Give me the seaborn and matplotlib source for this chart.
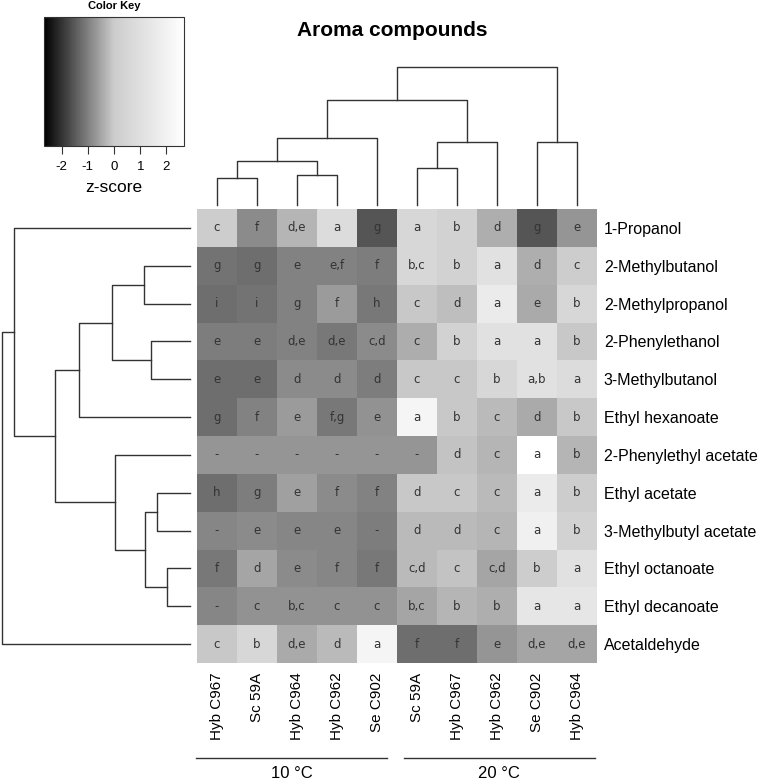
import numpy as np
import pandas as pd
import seaborn as sns
import matplotlib.pyplot as plt
from matplotlib.colors import LinearSegmentedColormap
from matplotlib.cm import ScalarMappable
from matplotlib.colors import Normalize

# column / row labels (order as shown after clustering)
strains = ["Hyb C967", "Sc 59A", "Hyb C964", "Hyb C962", "Se C902",
           "Sc 59A", "Hyb C967", "Hyb C962", "Se C902", "Hyb C964"]
temps = ["10 °C", "20 °C"]
compounds = ["1-Propanol", "2-Methylbutanol", "2-Methylpropanol", "2-Phenylethanol",
             "3-Methylbutanol", "Ethyl hexanoate", "2-Phenylethyl acetate", "Ethyl acetate",
             "3-Methylbutyl acetate", "Ethyl octanoate", "Ethyl decanoate", "Acetaldehyde"]

# z-scores (estimated from cell shading)
zscores = [
    [0.05, -0.84, -0.31, 0.84, -1.56, 0.58, 0.31, -0.38, -1.56, -0.71],
    [-1.16, -1.23, -0.97, -0.97, -1.03, 0.58, 0.31, 1.10, -0.38, 0.05],
    [-1.23, -1.16, -0.97, -0.64, -1.10, -0.05, -0.18, 1.62, -0.44, 0.58],
    [-1.03, -1.03, -0.97, -1.10, -0.84, -0.40, 0.31, 1.10, 1.10, -0.05],
    [-1.23, -1.23, -0.84, -0.84, -1.03, -0.05, -0.05, 0.58, 1.10, 0.84],
    [-1.23, -0.97, -0.64, -1.10, -0.77, 2.15, -0.05, -0.25, -0.44, -0.05],
    [-0.71, -0.71, -0.71, -0.71, -0.71, -0.71, -0.12, -0.31, 2.67, -0.31],
    [-1.23, -1.03, -0.58, -0.84, -0.97, -0.05, -0.05, -0.25, 1.62, 0.05],
    [-0.90, -0.84, -0.90, -0.90, -1.03, -0.25, -0.25, -0.31, 1.88, 0.31],
    [-1.10, -0.51, -0.84, -0.90, -1.10, -0.25, -0.12, -0.51, 0.05, 1.10],
    [-0.90, -0.77, -0.77, -0.77, -0.77, -0.51, -0.31, -0.38, 1.36, 1.36],
    [-0.05, 0.58, -0.44, -0.25, 2.15, -1.23, -1.23, -0.71, -0.51, -0.51],
]

letters = [
    ["c", "f", "d,e", "a", "g", "a", "b", "d", "g", "e"],
    ["g", "g", "e", "e,f", "f", "b,c", "b", "a", "d", "c"],
    ["i", "i", "g", "f", "h", "c", "d", "a", "e", "b"],
    ["e", "e", "d,e", "d,e", "c,d", "c", "b", "a", "a", "b"],
    ["e", "e", "d", "d", "d", "c", "c", "b", "a,b", "a"],
    ["g", "f", "e", "f,g", "e", "a", "b", "c", "d", "b"],
    ["-", "-", "-", "-", "-", "-", "d", "c", "a", "b"],
    ["h", "g", "e", "f", "f", "d", "c", "c", "a", "b"],
    ["-", "e", "e", "e", "-", "d", "d", "c", "a", "b"],
    ["f", "d", "e", "f", "f", "c,d", "c", "c,d", "b", "a"],
    ["-", "c", "b,c", "c", "c", "b,c", "b", "b", "a", "a"],
    ["c", "b", "d,e", "d", "a", "f", "f", "e", "d,e", "d,e"],
]

# dendrograms: (merge height, left, right), leaves are positions
col_tree = (138, (105, (67, (44, (27, 0, 1), (30, 2, 3)), 4), (63, (37, 5, 6), 7)), (63, 8, 9))
row_tree = (188, (176, 0, (135, (111, (78, (46, 1, 2), (39, 3, 4)), 5),
                           (75, 6, (45, (33, 7, 8), (23, 9, 10))))), 11)

W, H = 761, 782
plt.rcParams["font.family"] = ["Liberation Sans", "DejaVu Sans"]
plt.rcParams["axes.unicode_minus"] = False
fig = plt.figure(figsize=(W / 100, H / 100), dpi=100)


def box(x0, y0, x1, y1):
    return [x0 / W, 1 - y1 / H, (x1 - x0) / W, (y1 - y0) / H]


cmap = LinearSegmentedColormap.from_list("key", [(0, "black"), (0.5, (0.8, 0.8, 0.8)), (1, "white")])
vmin, vmax = -2.67, 2.67

# heatmap
ax = fig.add_axes(box(197, 209, 597, 663))
df = pd.DataFrame(zscores, index=compounds, columns=range(len(strains)))
sns.heatmap(df, ax=ax, cmap=cmap, vmin=vmin, vmax=vmax, cbar=False,
            annot=np.array(letters), fmt="",
            annot_kws={"fontsize": 8.5, "color": "#333333", "family": "DejaVu Sans"},
            xticklabels=strains, yticklabels=compounds)
ax.yaxis.tick_right()
ax.tick_params(length=0)
ax.tick_params(axis="y", pad=5, labelsize=11.5)
ax.tick_params(axis="x", pad=7, labelsize=11)
plt.setp(ax.get_yticklabels(), rotation=0, ha="left")
plt.setp(ax.get_xticklabels(), rotation=90, va="top")
ax.set_xlabel("")
ax.set_ylabel("")

# temperature groups
for i, t in enumerate(temps):
    x0 = i * 5 - 0.03 + 0.2 * i
    x1 = i * 5 + 4.75 + 0.2 * i
    ax.plot([x0, x1], [14.5, 14.5], color="#333333", lw=1, clip_on=False)
    ax.text((x0 + x1) / 2, 14.92, t, ha="center", va="center", fontsize=12)


def draw_tree(axis, node, vertical):
    if not isinstance(node, tuple):
        return node + 0.5, 0
    h, a, b = node
    pa, ha = draw_tree(axis, a, vertical)
    pb, hb = draw_tree(axis, b, vertical)
    xs = [pa, pa, pb, pb]
    ys = [ha, h, h, hb]
    if vertical:
        axis.plot(xs, ys, color="#333333", lw=1, clip_on=False)
    else:
        axis.plot(ys, xs, color="#333333", lw=1, clip_on=False)
    return (pa + pb) / 2, h


axt = fig.add_axes(box(197, 67, 597, 205))
draw_tree(axt, col_tree, True)
axt.set_xlim(0, len(strains))
axt.set_ylim(0, 138)
axt.axis("off")

axl = fig.add_axes(box(2, 209, 190, 663))
draw_tree(axl, row_tree, False)
axl.set_xlim(188, 0)
axl.set_ylim(len(compounds), 0)
axl.axis("off")

# color key
axk = fig.add_axes(box(44, 17, 184, 146))
cb = fig.colorbar(ScalarMappable(norm=Normalize(vmin, vmax), cmap=cmap), cax=axk,
                  orientation="horizontal", ticks=[-2, -1, 0, 1, 2])
cb.outline.set_edgecolor("#333333")
axk.tick_params(labelsize=9.5, length=6, color="#333333", pad=5)
cb.set_label("z-score", fontsize=12.5, labelpad=5)
fig.text(114 / W, 1 - 6 / H, "Color Key", ha="center", va="center", fontsize=8, fontweight="bold")

fig.text(392 / W, 1 - 30 / H, "Aroma compounds", ha="center", va="center",
         fontsize=15, fontweight="bold")

fig.savefig("out.png", dpi=100)
